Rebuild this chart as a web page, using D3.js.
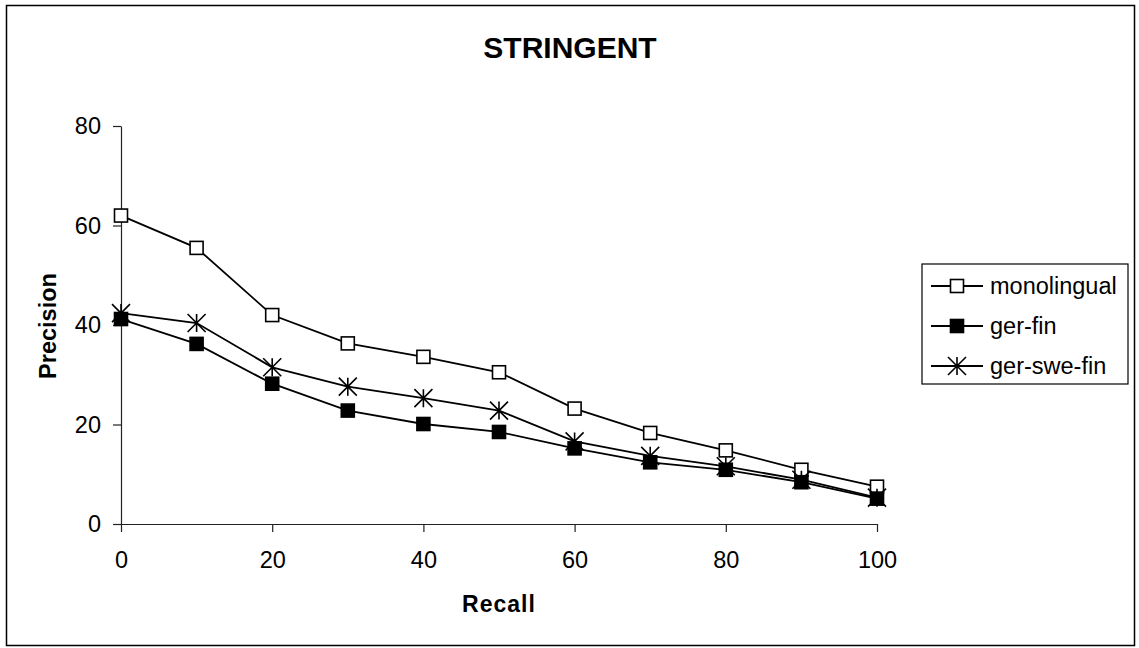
<!DOCTYPE html>
<meta charset="utf-8">
<head>
  <title>STRINGENT</title>
</head>

<style>
  body { margin: 0; background: #fff; }
  text { font-family: "Liberation Sans", Arial, sans-serif; fill: #000; }
</style>

<body>

  <div id="chart"></div>

  <script src="https://d3js.org/d3.v7.min.js"></script>
  <script>

  // data
  var recall = [0, 10, 20, 30, 40, 50, 60, 70, 80, 90, 100];
  var monolingual = [62, 55.5, 42, 36.3, 33.6, 30.5, 23.2, 18.3, 14.8, 10.9, 7.5];
  var gerFin = [41.2, 36.2, 28.2, 22.8, 20.1, 18.5, 15.2, 12.4, 10.9, 8.4, 5.1];
  var gerSweFin = [42.4, 40.4, 31.5, 27.6, 25.3, 22.8, 16.6, 13.7, 11.6, 8.9, 5.3];
  var seriesNames = ["monolingual", "ger-fin", "ger-swe-fin"];
  var xTicks = [0, 20, 40, 60, 80, 100];
  var yTicks = [0, 20, 40, 60, 80];

  var W = 1139, H = 648;
  var plot = {left: 121, right: 877, top: 126, bottom: 524};

  var svg = d3.select("#chart")
    .append("svg")
      .attr("width", W)
      .attr("height", H);

  // outer frame
  svg.append("rect")
    .attr("x", 6.5).attr("y", 5.5)
    .attr("width", 1128).attr("height", 640)
    .attr("fill", "#fff")
    .attr("stroke", "#000")
    .attr("stroke-width", 1.5);

  var x = d3.scaleLinear().domain([0, 100]).range([plot.left, plot.right]);
  var y = d3.scaleLinear().domain([0, 80]).range([plot.bottom, plot.top]);

  // axes
  var xAxis = svg.append("g")
    .attr("transform", "translate(0," + plot.bottom + ")")
    .call(d3.axisBottom(x).tickValues(xTicks).tickSize(8).tickPadding(19).tickSizeOuter(0));
  var yAxis = svg.append("g")
    .attr("transform", "translate(" + plot.left + ",0)")
    .call(d3.axisLeft(y).tickValues(yTicks).tickSize(8).tickPadding(12).tickSizeOuter(0));

  [xAxis, yAxis].forEach(function(a) {
    a.select(".domain").attr("stroke", "#222").attr("stroke-width", 1.2);
    a.selectAll(".tick line").attr("stroke", "#222").attr("stroke-width", 1.2);
    a.selectAll(".tick text")
      .style("font-family", "'Liberation Sans', Arial, sans-serif")
      .style("font-size", "23.5px")
      .attr("fill", "#000");
  });

  // titles
  svg.append("text")
    .attr("x", 570).attr("y", 58)
    .attr("text-anchor", "middle")
    .style("font-size", "30px").style("font-weight", "bold")
    .text("STRINGENT");
  svg.append("text")
    .attr("x", 499).attr("y", 612)
    .attr("text-anchor", "middle")
    .style("font-size", "23px").style("font-weight", "bold")
    .style("letter-spacing", "1px")
    .text("Recall");
  svg.append("text")
    .attr("transform", "translate(56,326) rotate(-90)")
    .attr("text-anchor", "middle")
    .style("font-size", "23.5px").style("font-weight", "bold")
    .text("Precision");

  // markers
  function drawMarker(g, kind, cx, cy) {
    if (kind === "open" || kind === "filled") {
      g.append("rect")
        .attr("x", cx - 6.5).attr("y", cy - 6.5)
        .attr("width", 13).attr("height", 13)
        .attr("fill", kind === "open" ? "#fff" : "#000")
        .attr("stroke", "#000").attr("stroke-width", 1.6);
    } else {
      var r = 9;
      g.append("path")
        .attr("d", "M" + (cx - r) + "," + (cy - r) + "L" + (cx + r) + "," + (cy + r) +
                   "M" + (cx - r) + "," + (cy + r) + "L" + (cx + r) + "," + (cy - r) +
                   "M" + cx + "," + (cy - r) + "L" + cx + "," + (cy + r))
        .attr("stroke", "#000").attr("stroke-width", 1.6).attr("fill", "none");
    }
  }

  var series = [
    {name: seriesNames[0], values: monolingual, kind: "open"},
    {name: seriesNames[1], values: gerFin, kind: "filled"},
    {name: seriesNames[2], values: gerSweFin, kind: "star"}
  ];

  var line = d3.line()
    .x(function(d, i) { return x(recall[i]); })
    .y(function(d) { return y(d); });

  series.forEach(function(s) {
    var g = svg.append("g");
    g.append("path")
      .datum(s.values)
      .attr("d", line)
      .attr("fill", "none")
      .attr("stroke", "#000")
      .attr("stroke-width", 1.8);
    s.values.forEach(function(v, i) {
      drawMarker(g, s.kind, x(recall[i]), y(v));
    });
  });

  // legend
  var legend = svg.append("g");
  legend.append("rect")
    .attr("x", 922).attr("y", 264)
    .attr("width", 206).attr("height", 120)
    .attr("fill", "#fff")
    .attr("stroke", "#000").attr("stroke-width", 1.2);

  series.forEach(function(s, i) {
    var ly = 286 + i * 40;
    legend.append("line")
      .attr("x1", 931).attr("x2", 983)
      .attr("y1", ly).attr("y2", ly)
      .attr("stroke", "#000").attr("stroke-width", 1.8);
    drawMarker(legend, s.kind, 957, ly);
    legend.append("text")
      .attr("x", 990).attr("y", ly)
      .attr("dy", "0.35em")
      .style("font-size", "23.5px")
      .text(s.name);
  });

  </script>
</body>
</html>
